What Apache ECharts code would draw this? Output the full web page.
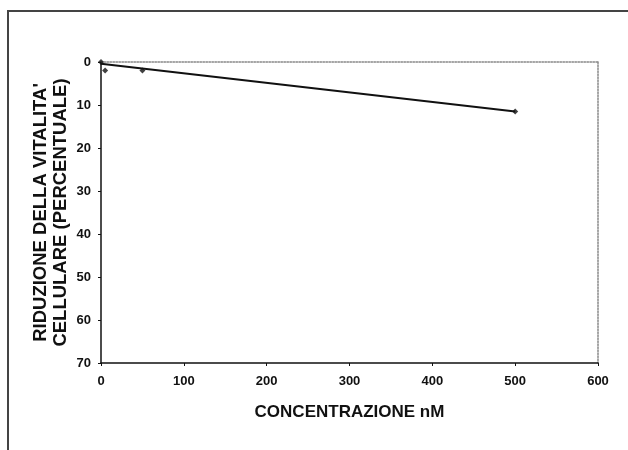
<!DOCTYPE html>
<html><head><meta charset="utf-8">
<script src="https://cdn.jsdelivr.net/npm/echarts@6/dist/echarts.min.js"></script>
<style>html,body{margin:0;padding:0;background:#fff}#c{width:628px;height:450px}</style>
</head><body><div id="c"></div>
<script>
const concentrations = [0, 5, 50, 500];
const reduction = [0, 2, 2, 11.5];
const trendX = [0, 500];
const trendY = [0.4, 11.5];
const xTicks = [0, 100, 200, 300, 400, 500, 600];
const yTicks = [0, 10, 20, 30, 40, 50, 60, 70];
const xName = 'CONCENTRAZIONE nM';
const yName = "RIDUZIONE DELLA VITALITA'\nCELLULARE (PERCENTUALE)";

const font = 'Liberation Sans, Arial, sans-serif';
const chart = echarts.init(document.getElementById('c'), null, {renderer: 'canvas'});
chart.setOption({
  animation: false,
  backgroundColor: '#fff',
  graphic: [{type: 'rect', shape: {x: 8, y: 11, width: 700, height: 500}, style: {fill: 'none', stroke: '#444', lineWidth: 2}}],
  grid: {left: 101, right: 30, top: 62, bottom: 87, containLabel: false},
  xAxis: [{
    type: 'value', min: xTicks[0], max: xTicks[xTicks.length - 1], interval: 100,
    name: xName, nameLocation: 'middle', nameGap: 41,
    nameTextStyle: {fontFamily: font, fontWeight: 'bold', fontSize: 17, color: '#111'},
    axisLine: {show: true, onZero: false, lineStyle: {color: '#111', width: 1.5}},
    axisTick: {show: true, length: 3, inside: false, lineStyle: {color: '#111'}},
    axisLabel: {fontFamily: font, fontWeight: 'bold', fontSize: 13, color: '#111', margin: 12},
    splitLine: {show: false}
  }, {
    type: 'value', position: 'top', min: 0, max: 600,
    axisLine: {show: true, onZero: false, lineStyle: {color: '#888', width: 1.5, type: 'dotted'}},
    axisTick: {show: false}, axisLabel: {show: false}, splitLine: {show: false}
  }],
  yAxis: [{
    type: 'value', inverse: true, min: yTicks[0], max: yTicks[yTicks.length - 1], interval: 10,
    name: yName, nameLocation: 'middle', nameGap: 30, nameRotate: 90, nameMoveOverlap: false,
    nameTextStyle: {fontFamily: font, fontWeight: 'bold', fontSize: 18.5, color: '#111', lineHeight: 20},
    axisLine: {show: true, onZero: false, lineStyle: {color: '#111', width: 1.5}},
    axisTick: {show: true, length: 3, lineStyle: {color: '#111'}},
    axisLabel: {fontFamily: font, fontWeight: 'bold', fontSize: 13, color: '#111', margin: 10},
    splitLine: {show: false}
  }, {
    type: 'value', position: 'right', inverse: true, min: 0, max: 70,
    axisLine: {show: true, onZero: false, lineStyle: {color: '#888', width: 1.5, type: 'dotted'}},
    axisTick: {show: false}, axisLabel: {show: false}, splitLine: {show: false}
  }],
  series: [{
    type: 'line',
    data: trendX.map((x, i) => [x, trendY[i]]),
    symbol: 'none',
    lineStyle: {color: '#111', width: 2},
    silent: true
  }, {
    type: 'scatter',
    data: concentrations.map((x, i) => [x, reduction[i]]),
    symbol: 'diamond', symbolSize: 6,
    itemStyle: {color: '#111'}
  }]
});
</script></body></html>
